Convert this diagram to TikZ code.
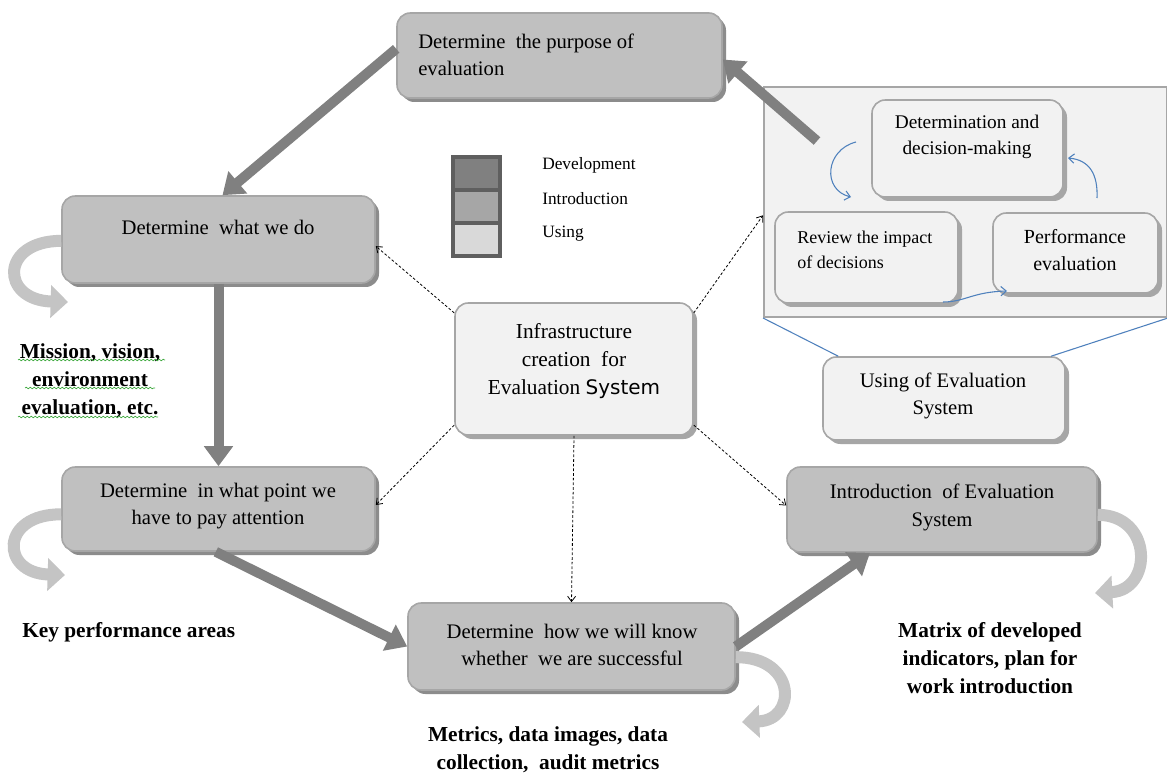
\documentclass[tikz,border=0pt]{standalone}
\usepackage{fontspec}
\setmainfont{Liberation Serif}
\newfontfamily\sysfont{DejaVu Sans}
\usetikzlibrary{arrows.meta,shadows,decorations.pathmorphing}

\definecolor{boxgray}{HTML}{C0C0C0}
\definecolor{edgegray}{HTML}{A6A6A6}
\definecolor{shadegray}{HTML}{8C8C8C}
\definecolor{palegray}{HTML}{F2F2F2}
\definecolor{arrowgray}{HTML}{808080}
\definecolor{curlgray}{HTML}{C4C4C4}
\definecolor{linkblue}{HTML}{4F81BD}
\definecolor{wavegreen}{HTML}{3DA83D}
\definecolor{legendedge}{HTML}{5F5F5F}

\tikzset{
  darkbox/.style={draw=edgegray, fill=boxgray, line width=1.2pt, rounded corners=10pt,
    drop shadow={shadow xshift=3pt, shadow yshift=-3pt, fill=shadegray, opacity=1}},
  lightbox/.style={draw=edgegray, fill=palegray, line width=1.2pt, rounded corners=10pt,
    drop shadow={shadow xshift=3pt, shadow yshift=-3pt, fill=edgegray, opacity=1}},
  legendbox/.style={draw=legendedge, line width=3pt, minimum width=35.25pt, minimum height=24.75pt},
  boxtext/.style={align=center, inner sep=0pt, font=\fontsize{15.5}{20.5}\selectfont},
  smalltext/.style={align=center, inner sep=0pt, font=\fontsize{14.5}{20}\selectfont},
  legendtext/.style={anchor=west, inner sep=0pt, font=\fontsize{13}{15}\selectfont},
  boldtext/.style={align=center, inner sep=0pt, font=\fontsize{16}{21}\selectfont\bfseries},
  bigarrow/.style={draw=arrowgray, line width=7.5pt, -{Triangle[width=21pt,length=15pt]}},
  curl/.style={draw=curlgray, line width=9pt, -{Triangle[width=24pt,length=13pt]}},
  dotlink/.style={draw=black, line width=0.6pt, dash pattern=on 2pt off 1.5pt,
    -{Straight Barb[length=4pt,width=6pt]}},
  bluelink/.style={draw=linkblue, line width=0.8pt},
  wavy/.style={draw=wavegreen, line width=0.5pt, decorate,
    decoration={snake, amplitude=0.6pt, segment length=3pt}},
}

\begin{document}
\begin{tikzpicture}[x=0.75pt, y=-0.75pt]
  \fill[white] (0,0) rectangle (1167,773);
  \useasboundingbox (0,0) rectangle (1167,773);

  % container of the using cycle
  \node[draw=edgegray, fill=palegray, line width=1.5pt, minimum width=302.25pt,
        minimum height=172.5pt] (cont) at (965.5,202) {};
  \node[lightbox, minimum width=143.25pt, minimum height=72.75pt] (determ) at (967.5,148.5) {};
  \node[smalltext] (determ-t) at (967,137) {Determination and\\decision-making};
  \node[lightbox, minimum width=137.25pt, minimum height=68.25pt] (review) at (866.5,257.5) {};
  \node[smalltext, align=left, anchor=west, font=\fontsize{13.5}{19}\selectfont]
        (review-t) at (797,250) {Review the impact\\of decisions};
  \node[lightbox, minimum width=123.75pt, minimum height=60pt] (perf) at (1075.5,253) {};
  \node[smalltext, font=\fontsize{15}{20}\selectfont] (perf-t) at (1075,250) {Performance\\evaluation};

  % blue cycle arrows
  \coordinate (b1-s) at (856,142);
  \coordinate (b1-e) at (851,197);
  \coordinate (b2-s) at (1097,198);
  \coordinate (b2-e) at (1068,158);
  \coordinate (b3-s) at (943,302);
  \coordinate (b3-e) at (1007,291);
  \draw[bluelink, -{Straight Barb[length=4pt,width=7pt]}]
    (b1-s) .. controls (825,150) and (822,190) .. (b1-e);
  \draw[bluelink, -{Straight Barb[length=4pt,width=7pt]}]
    (b2-s) .. controls (1098,175) and (1090,160) .. (b2-e);
  \draw[bluelink, -{Straight Barb[length=4pt,width=7pt]}]
    (b3-s) .. controls (965,302) and (972,292) .. (b3-e);

  % main boxes
  \node[darkbox, minimum width=243.75pt, minimum height=63.75pt] (purpose) at (559.5,55.5) {};
  \node[boxtext, align=left, anchor=west] (purpose-t) at (418,55) {Determine\ \ the purpose of\\evaluation};
  \node[darkbox, minimum width=234.75pt, minimum height=65.25pt] (whatdo) at (218.5,239.5) {};
  \node[boxtext] (whatdo-t) at (218,227) {Determine\ \ what we do};
  \node[darkbox, minimum width=234.75pt, minimum height=63pt] (point) at (218.5,509) {};
  \node[boxtext] (point-t) at (218,506) {Determine\ \ in what point we\\have to pay attention};
  \node[darkbox, minimum width=245.25pt, minimum height=65.25pt] (how) at (571.5,646.5) {};
  \node[boxtext] (how-t) at (572,645) {Determine\ \ how we will know\\whether\ \ we are successful};
  \node[darkbox, minimum width=232.5pt, minimum height=63.75pt] (intro) at (942,509.5) {};
  \node[boxtext] (intro-t) at (942,507.5) {Introduction\ \ of Evaluation\\System};
  \node[lightbox, minimum width=178.5pt, minimum height=99pt] (infra) at (574,369) {};
  \node[boxtext, font=\fontsize{16}{21}\selectfont] (infra-t) at (574,361)
        {Infrastructure\\creation\ \ for\\Evaluation\ {\sysfont\fontsize{15}{21}\selectfont System}};
  \node[lightbox, minimum width=181.5pt, minimum height=62.25pt] (using) at (944,398.5) {};
  \node[boxtext] (using-t) at (943,396) {Using of Evaluation\\System};

  % zoom lines
  \draw[bluelink] (cont.south west) -- ([xshift=12pt]using.north west);
  \draw[bluelink] (cont.south east) -- ([xshift=-11pt]using.north east);

  % legend
  \node[legendbox, fill=arrowgray] (leg-dev) at (476.5,173.5) {};
  \node[legendbox, fill=edgegray] (leg-intro) at (476.5,206.5) {};
  \node[legendbox, fill=boxgray!60] (leg-using) at (476.5,240) {};
  \node[legendtext] (leg-dev-t) at (542,165) {Development};
  \node[legendtext] (leg-intro-t) at (542,199) {Introduction};
  \node[legendtext] (leg-using-t) at (542,234) {Using};

  % thick flow arrows
  \coordinate (from-cont) at (817,141);
  \draw[bigarrow] ([yshift=5pt]purpose.west) -- ([xshift=3pt]whatdo.north);
  \draw[bigarrow] (from-cont) -- ([yshift=-3pt]purpose.east);
  \draw[bigarrow] (whatdo.south) -- (point.north);
  \draw[bigarrow] ([xshift=-2pt]point.south) -- (how.west);
  \draw[bigarrow] (how.east) -- ([xshift=-54pt]intro.south);

  % dashed links from the infrastructure box
  \draw[dotlink] ([yshift=-8pt]infra.north west) -- ([yshift=-5pt]whatdo.east);
  \draw[dotlink] ([yshift=-8pt]infra.north east) -- ([yshift=-10pt]cont.west);
  \draw[dotlink] ([yshift=8pt]infra.south west) -- ([yshift=3pt]point.east);
  \draw[dotlink] (infra.south) -- (how.north);
  \draw[dotlink] ([yshift=8pt]infra.south east) -- ([yshift=3pt]intro.west);

  % curled result arrows
  \coordinate (whatdo-c) at (68,302);
  \coordinate (point-c) at (65,575);
  \coordinate (how-c) at (742,722);
  \coordinate (intro-c) at (1095,593);
  \draw[curl] ([yshift=-1pt]whatdo.west) .. controls (0,241) and (0,300) .. (whatdo-c);
  \draw[curl] ([yshift=-4pt]point.west) .. controls (0,514) and (0,573) .. (point-c);
  \draw[curl] ([yshift=-8pt]how.east) .. controls (797,657) and (797,720) .. (how-c);
  \draw[curl] ([yshift=-4pt]intro.east) .. controls (1153,515) and (1153,590) .. (intro-c);

  % results
  \node[boldtext] (mission) at (90,381) {Mission, vision,\\environment\\evaluation, etc.};
  \draw[wavy] (18,360) -- (165,360);
  \draw[wavy] (25,388) -- (155,388);
  \draw[wavy] (18,417) -- (158,417);
  \node[boldtext, anchor=west] (keyperf) at (22,632) {Key performance areas};
  \node[boldtext] (metrics) at (548,750) {Metrics, data images, data\\collection,\ \ audit metrics};
  \node[boldtext] (matrix) at (990,658) {Matrix of developed\\indicators, plan for\\work introduction};
\end{tikzpicture}
\end{document}
